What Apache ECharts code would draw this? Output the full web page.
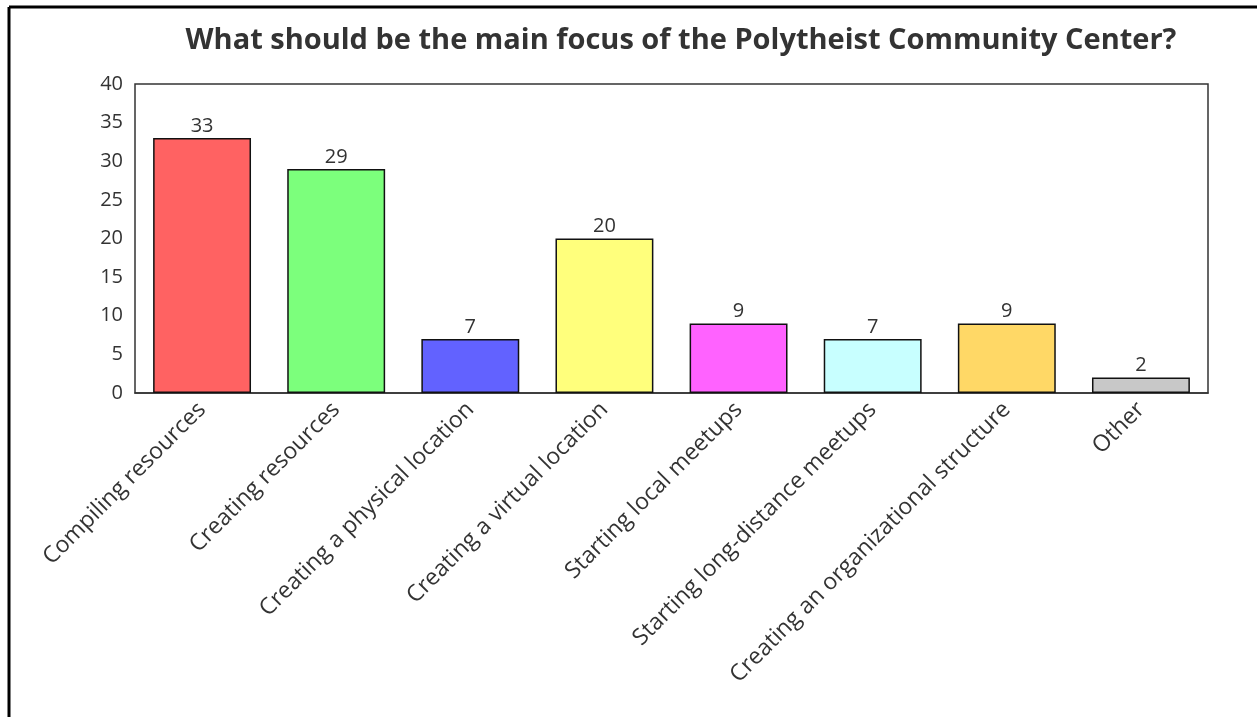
<!DOCTYPE html>
<html>
<head>
<meta charset="utf-8">
<script src="https://cdn.jsdelivr.net/npm/echarts@6/dist/echarts.min.js"></script>
<style>
  html, body { margin: 0; padding: 0; background: #fff; }
  #chart { width: 1257px; height: 717px; }
</style>
</head>
<body>
<div id="chart"></div>
<script>
const titleText = 'What should be the main focus of the Polytheist Community Center?';
const categories = [
  'Compiling resources',
  'Creating resources',
  'Creating a physical location',
  'Creating a virtual location',
  'Starting local meetups',
  'Starting long-distance meetups',
  'Creating an organizational structure',
  'Other'
];
const votes = [33, 29, 7, 20, 9, 7, 9, 2];
const barColors = ['#ff6262', '#7cff7c', '#6262ff', '#ffff7c', '#ff62ff', '#c8ffff', '#ffd866', '#c8c8c8'];

const FONT = '"Open Sans", "Noto Sans", sans-serif';
const chart = echarts.init(document.getElementById('chart'), null, { renderer: 'canvas' });

chart.setOption({
  backgroundColor: '#ffffff',
  animation: false,
  title: {
    text: titleText,
    left: 676,
    textAlign: 'center',
    top: 21,
    textStyle: { fontFamily: FONT, fontSize: 29, fontWeight: 'bold', color: '#333' }
  },
  // outer frame along the left and top edges
  graphic: [
    { type: 'line', shape: { x1: 9, y1: 7, x2: 1257, y2: 7 }, style: { stroke: '#000', lineWidth: 3 } },
    { type: 'line', shape: { x1: 9, y1: 7, x2: 9, y2: 717 }, style: { stroke: '#000', lineWidth: 3 } }
  ],
  grid: {
    left: 135, right: 49, top: 84, bottom: 324,
    show: true, borderColor: '#333', borderWidth: 1.5, backgroundColor: 'transparent'
  },
  xAxis: {
    type: 'category',
    data: categories,
    axisTick: { show: false },
    axisLine: { show: true, lineStyle: { color: '#333', width: 1.5 } },
    axisLabel: {
      interval: 0, rotate: 45, margin: 13,
      fontFamily: FONT, fontSize: 23, color: '#333'
    }
  },
  yAxis: {
    type: 'value',
    min: 0, max: 40, interval: 5,
    splitLine: { show: false },
    axisLine: { show: false },
    axisTick: { show: false },
    axisLabel: { margin: 12, fontFamily: FONT, fontSize: 20, color: '#333' }
  },
  series: [{
    type: 'bar',
    data: votes.map((v, i) => ({ value: v, itemStyle: { color: barColors[i] } })),
    barWidth: '73%',
    itemStyle: { borderColor: '#111', borderWidth: 1.5 },
    label: {
      show: true, position: 'top', distance: 2,
      fontFamily: FONT, fontSize: 20, color: '#333'
    }
  }]
});
</script>
</body>
</html>
